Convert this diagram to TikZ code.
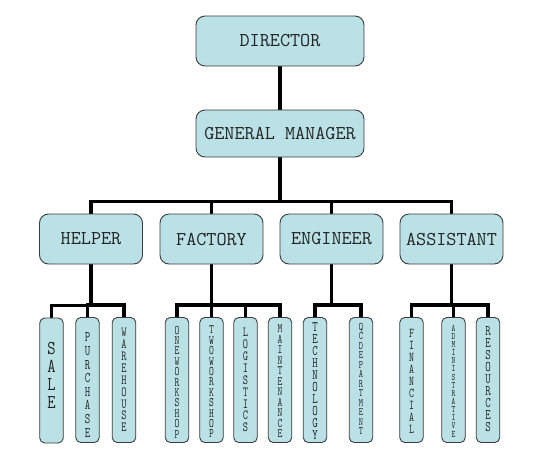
\documentclass[tikz,border=0pt]{standalone}
\usepackage{fontspec}
\usetikzlibrary{backgrounds}
\newfontfamily\mono{Latin Modern Mono}
\newfontfamily\narrow[FakeStretch=0.72]{Latin Modern Mono}
\newfontfamily\narrowb[FakeStretch=0.82]{Latin Modern Mono}
\definecolor{boxfill}{RGB}{186,225,229}
\definecolor{boxline}{RGB}{60,60,60}
\definecolor{txt}{RGB}{35,35,35}
\newcommand\lf[2]{\mono\fontsize{#1}{#2}\selectfont}
\newcommand\nf[2]{\narrow\fontsize{#1}{#2}\selectfont}
\tikzset{
  topbox/.style={draw=boxline, fill=boxfill, line width=0.9pt, rounded corners=9pt,
    minimum width=168pt, inner sep=0pt, text=txt, font={\lf{19.6}{24}}},
  midbox/.style={draw=boxline, fill=boxfill, line width=0.9pt, rounded corners=9pt,
    minimum width=103pt, minimum height=50pt, inner sep=0pt, text=txt, font={\lf{19.6}{24}}},
  leaf/.style={draw=boxline, fill=boxfill, line width=0.9pt, rounded corners=5pt,
    minimum width=23.5pt, minimum height=125pt, inner sep=0pt},
  lt/.style={inner sep=0pt, align=center, text=txt},
  conn/.style={line width=3.2pt, black, line join=miter}
}
\begin{document}
\begin{tikzpicture}[x=1pt,y=-1pt]
\useasboundingbox (0,0) rectangle (537,463);

\node[topbox, minimum height=50pt] (dir) at (280,41) {DIRECTOR};
\node[topbox, minimum height=47pt] (gm) at (280,133.5) {GENERAL MANAGER};

\node[midbox] (help) at (91,239) {HELPER};
\node[midbox] (fac) at (211.5,239) {FACTORY};
\node[midbox] (eng) at (331.5,239) {ENGINEER};
\node[midbox] (ass) at (451.5,239) {ASSISTANT};

% leaf boxes
\node[leaf] (sale) at (51.5,380.5) {};
\node[leaf] (pur) at (87.5,380) {};
\node[leaf] (ware) at (124,380) {};
\node[leaf] (one) at (177,380) {};
\node[leaf] (two) at (211.5,380) {};
\node[leaf] (log) at (245.5,380) {};
\node[leaf] (main) at (280,380) {};
\node[leaf] (tech) at (315,380) {};
\node[leaf] (qc) at (361,380) {};
\node[leaf] (fin) at (411.5,380) {};
\node[leaf] (adm) at (453.5,380) {};
\node[leaf] (res) at (488,380) {};

% vertical labels
\node[lt, font={\narrowb\fontsize{19.6}{18}\selectfont}] (saleT) at (51.5,375) {S\\A\\L\\E};
\node[lt, font={\nf{14.7}{13.6}}] (purT) at (87.5,385) {P\\U\\R\\C\\H\\A\\S\\E};
\node[lt, font={\nf{14}{11.9}}] (wareT) at (124,380) {W\\A\\R\\E\\H\\O\\U\\S\\E};
\node[lt, font={\nf{13}{10.4}}] (oneT) at (177,382) {O\\N\\E\\W\\O\\R\\K\\S\\H\\O\\P};
\node[lt, font={\nf{13}{10.4}}] (twoT) at (211.5,382) {T\\W\\O\\W\\O\\R\\K\\S\\H\\O\\P};
\node[lt, font={\nf{14}{11.9}}] (logT) at (245.5,380) {L\\O\\G\\I\\S\\T\\I\\C\\S};
\node[lt, font={\nf{13}{10.5}}] (mainT) at (280,381.5) {M\\A\\I\\N\\T\\E\\N\\A\\N\\C\\E};
\node[lt, font={\nf{14.7}{12}}] (techT) at (315,381.5) {T\\E\\C\\H\\N\\O\\L\\O\\G\\Y};
\node[lt, font={\nf{11.5}{9.5}}] (qcT) at (361,379) {Q\\C\\D\\E\\P\\A\\R\\T\\M\\E\\N\\T};
\node[lt, font={\nf{13.5}{12}}] (finT) at (411.5,381) {F\\I\\N\\A\\N\\C\\I\\A\\L};
\node[lt, font={\nf{10}{8.15}}] (admT) at (453.5,381) {A\\D\\M\\I\\N\\I\\S\\T\\R\\A\\T\\I\\V\\E};
\node[lt, font={\nf{14.7}{11.9}}] (resT) at (488,379) {R\\E\\S\\O\\U\\R\\C\\E\\S};

\begin{scope}[on background layer]
\fill[white] (0,0) rectangle (537,463);
\draw[conn, line width=3.8pt] (dir.south) -- (gm.north);
\foreach \c in {help,fac,eng,ass}
  \draw[conn] (gm.south) |- ([yshift=12pt]\c.north) -- (\c.north);
\foreach \c in {sale,pur,ware}
  \draw[conn] (help.south) |- ([yshift=12pt]\c.north) -- (\c.north);
\foreach \c in {one,two,log,main}
  \draw[conn] (fac.south) |- ([yshift=12pt]\c.north) -- (\c.north);
\foreach \c in {tech,qc}
  \draw[conn] (eng.south) |- ([yshift=12pt]\c.north) -- (\c.north);
\foreach \c in {fin,adm,res}
  \draw[conn] (ass.south) |- ([yshift=12pt]\c.north) -- (\c.north);
\end{scope}
\end{tikzpicture}
\end{document}
